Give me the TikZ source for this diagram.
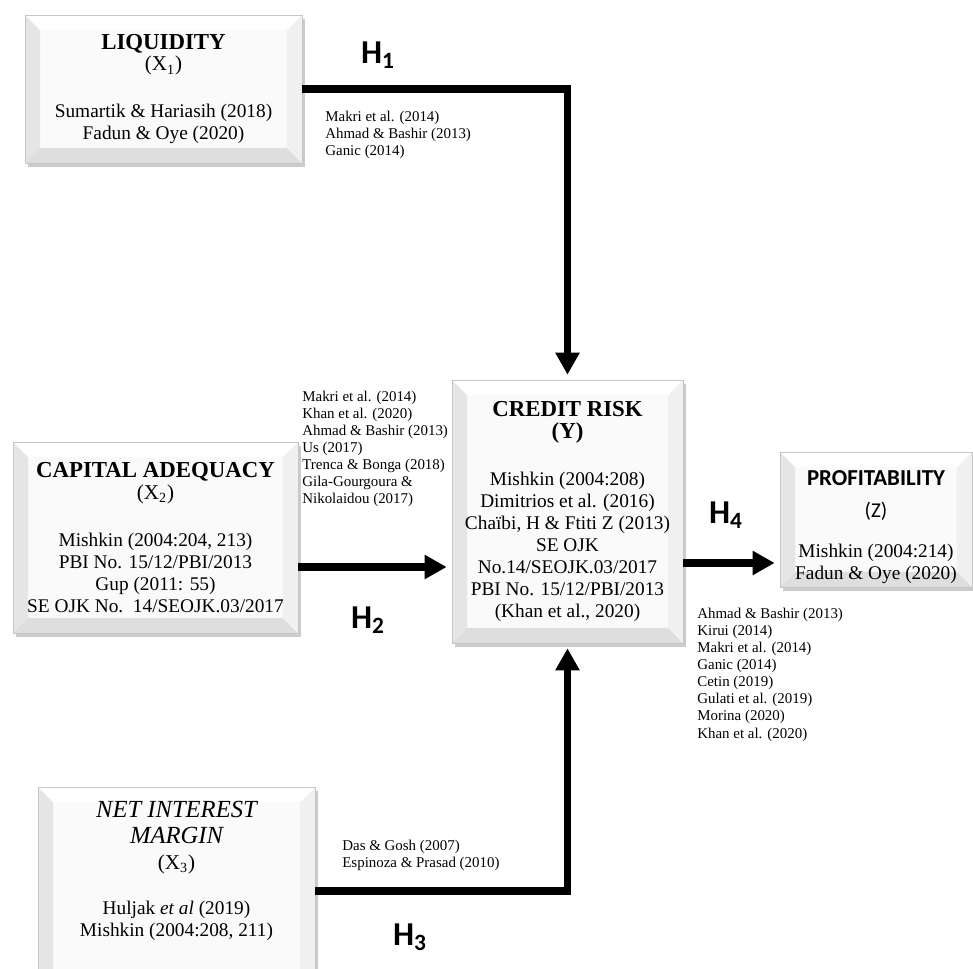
\documentclass[tikz,border=0pt]{standalone}
\usepackage{fontspec}
\setmainfont{Liberation Serif}
\newfontfamily\calfont{Carlito}
\usetikzlibrary{arrows.meta,shadows}

\begin{document}
\begin{tikzpicture}[x=0.02cm,y=-0.02cm,
  bevelbox/.style={rectangle,draw=gray!45,fill=gray!4,align=center,inner sep=0pt,
    font=\fontsize{11}{12.5}\selectfont,
    drop shadow={shadow xshift=0.06cm,shadow yshift=-0.08cm,fill=gray,opacity=0.4},
    path picture={
      \path (path picture bounding box.south west) coordinate (bsw)
            (path picture bounding box.north west) coordinate (bnw)
            (path picture bounding box.north east) coordinate (bne)
            (path picture bounding box.south east) coordinate (bse);
      \fill[gray!20] (bsw) -- (bnw) -- ([shift={(0.3cm,-0.3cm)}]bnw) -- ([shift={(0.3cm,0.3cm)}]bsw) -- cycle;
      \fill[gray!26] (bsw) -- (bse) -- ([shift={(-0.3cm,0.3cm)}]bse) -- ([shift={(0.3cm,0.3cm)}]bsw) -- cycle;
      \fill[gray!12] (bse) -- (bne) -- ([shift={(-0.3cm,-0.3cm)}]bne) -- ([shift={(-0.3cm,0.3cm)}]bse) -- cycle;
      \fill[white] (bnw) -- (bne) -- ([shift={(-0.3cm,-0.3cm)}]bne) -- ([shift={(0.3cm,-0.3cm)}]bnw) -- cycle;
    }},
  link/.style={line width=0.15cm,-{Triangle[length=0.44cm,width=0.46cm]},shorten >=0.1cm},
  hyp/.style={font=\calfont\bfseries\fontsize{19}{22}\selectfont,inner sep=0pt},
  reflist/.style={anchor=north west,align=left,inner sep=0pt,font=\fontsize{8.5}{9.7}\selectfont}]

\useasboundingbox (0,0) rectangle (973,969);
\fill[white] (0,0) rectangle (973,969);
\clip (0,0) rectangle (973,969);

% variables
\node[bevelbox,minimum width=5.54cm,minimum height=2.96cm] (liq) at (163.5,89)
  {{\fontsize{13}{15}\selectfont\bfseries LIQUIDITY}\\
   {\fontsize{12}{13}\selectfont (X\textsubscript{1})}\\[0.5cm]
   Sumartik \& Hariasih (2018)\\ Fadun \& Oye (2020)};
\node[bevelbox,minimum width=5.7cm,minimum height=3.82cm] (cap) at (155.5,537.5)
  {{\fontsize{13}{15}\selectfont\bfseries CAPITAL ADEQUACY}\\
   {\fontsize{12}{13}\selectfont (X\textsubscript{2})}\\[0.5cm]
   Mishkin (2004:204, 213)\\ PBI No. 15/12/PBI/2013\\ Gup (2011: 55)\\
   SE OJK No.\ \ 14/SEOJK.03/2017};
\node[bevelbox,minimum width=4.62cm,minimum height=5.26cm] (crd) at (567.5,511.5)
  {{\fontsize{13}{15}\selectfont\bfseries CREDIT RISK}\\
   {\fontsize{13}{15}\selectfont\bfseries (Y)}\\[0.5cm]
   Mishkin (2004:208)\\ Dimitrios et al. (2016)\\ Chaïbi, H \& Ftiti Z (2013)\\
   SE OJK\\ No.14/SEOJK.03/2017\\ PBI No. 15/12/PBI/2013\\ (Khan et al., 2020)};
\node[bevelbox,minimum width=3.84cm,minimum height=2.7cm] (prof) at (876,519.5)
  {\mbox{}\\[0.15cm]
   {\calfont\fontsize{13}{15}\selectfont\bfseries PROFITABILITY}\\[0.2cm]
   {\calfont\fontsize{12}{14}\selectfont (Z)}\\[0.36cm]
   Mishkin (2004:214)\\ Fadun \& Oye (2020)};
\node[bevelbox,minimum width=5.54cm,minimum height=4.16cm] (nim) at (176.5,891)
  {{\fontsize{14}{17}\selectfont\itshape NET INTEREST}\\[0.08cm]
   {\fontsize{14}{17}\selectfont\itshape MARGIN}\\[0.08cm]
   {\fontsize{12}{15}\selectfont (X\textsubscript{3})}\\[0.45cm]
   Huljak \textit{et al} (2019)\\ Mishkin (2004:208, 211)\\[0.45cm]\mbox{}};

% hypotheses
\draw[link] (liq.east) -| (crd.north);
\draw[link] (cap.east |- 0,567) -- (crd.west |- 0,567);
\draw[link] (nim.east) -| (crd.south);
\draw[link] (crd.east |- 0,563) -- (prof.west |- 0,563);

\node[hyp] (h1) at (378,55) {H\textsubscript{1}};
\node[hyp] (h2) at (368,620) {H\textsubscript{2}};
\node[hyp] (h3) at (410,937) {H\textsubscript{3}};
\node[hyp] (h4) at (726,515) {H\textsubscript{4}};

% supporting studies
\node[reflist] (ref1) at (325,111) {Makri et al. (2014)\\ Ahmad \& Bashir (2013)\\ Ganic (2014)};
\node[reflist] (ref2) at (302,391) {Makri et al. (2014)\\ Khan et al. (2020)\\ Ahmad \& Bashir (2013)\\
  Us (2017)\\ Trenca \& Bonga (2018)\\ Gila-Gourgoura \&\\ Nikolaidou (2017)};
\node[reflist] (ref3) at (342,840) {Das \& Gosh (2007)\\ Espinoza \& Prasad (2010)};
\node[reflist] (ref4) at (697,608) {Ahmad \& Bashir (2013)\\ Kirui (2014)\\ Makri et al. (2014)\\
  Ganic (2014)\\ Cetin (2019)\\ Gulati et al. (2019)\\ Morina (2020)\\ Khan et al. (2020)};

\end{tikzpicture}
\end{document}
